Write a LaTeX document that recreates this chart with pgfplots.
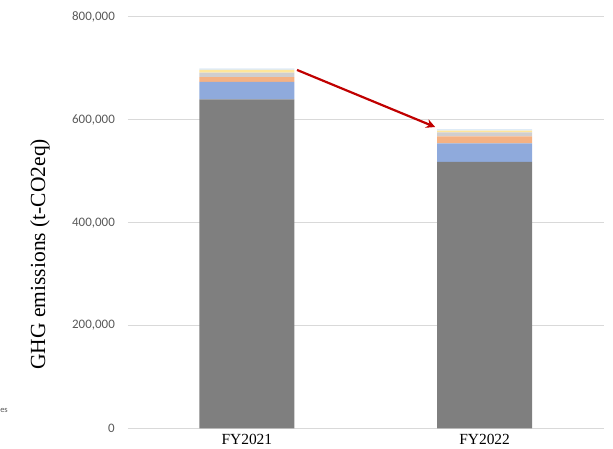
\documentclass[border=0pt]{standalone}
\usepackage{pgfplots}
\pgfplotsset{compat=1.18}
\usetikzlibrary{arrows.meta}
\usepackage{fontspec}
\setmainfont{Liberation Serif}
\newfontfamily\tickfont{Carlito}
\definecolor{cgray}{HTML}{7F7F7F}
\definecolor{cblue}{HTML}{8FAADC}
\definecolor{corange}{HTML}{F4B183}
\definecolor{clgray}{HTML}{D0CECE}
\definecolor{cyellow}{HTML}{FFE699}
\definecolor{clblue}{HTML}{DEEBF7}
\definecolor{arrowred}{HTML}{C00000}
\definecolor{gridc}{HTML}{D9D9D9}
\definecolor{tickc}{HTML}{595959}
\begin{document}
\begin{tikzpicture}
\path[use as bounding box] (-128bp,-20.7bp) rectangle (485bp,428.3bp);
\begin{axis}[
  at={(0,0)}, anchor=south west,
  scale only axis, width=475.5bp, height=411.3bp,
  ybar stacked, bar width=95bp,
  xmin=-0.5, xmax=1.5, ymin=0, ymax=800000,
  scaled y ticks=false,
  xtick={0,1}, xticklabels={FY2021,FY2022},
  ytick={0,200000,400000,600000,800000},
  yticklabels={0,{200,000},{400,000},{600,000},{800,000}},
  axis line style={draw=none},
  major tick length=0pt,
  ymajorgrids, grid style={draw=gridc, line width=1bp},
  yticklabel style={font=\tickfont\fontsize{13}{13}\selectfont, text=tickc, inner xsep=0pt, xshift=-13bp},
  xticklabel style={font=\fontsize{15.5}{15.5}\selectfont, text=black, yshift=-2bp},
  ylabel={GHG emissions (t-CO2eq)},
  ylabel style={at={(axis description cs:-0.185,0.423)}, anchor=center, rotate=0, font=\fontsize{21.6}{21.6}\selectfont},
  every axis plot/.append style={draw=none},
  clip=false,
]
\addplot[fill=cgray] coordinates {(0,640000) (1,518000)};
\addplot[fill=cblue] coordinates {(0,34000) (1,36000)};
\addplot[fill=corange] coordinates {(0,9000) (1,14000)};
\addplot[fill=clgray] coordinates {(0,9000) (1,7500)};
\addplot[fill=cyellow] coordinates {(0,5000) (1,3500)};
\addplot[fill=clblue] coordinates {(0,3000) (1,3000)};
\draw[-{Stealth[length=9bp,width=9bp]}, draw=arrowred, line width=2.2bp] (axis cs:0.211,697000) -- (axis cs:0.792,586000);
\end{axis}
\node[anchor=east, inner sep=0pt, font=\tickfont\fontsize{8.5}{8.5}\selectfont, text=tickc] at (-120bp,17.6bp) {Categories};
\end{tikzpicture}
\end{document}
